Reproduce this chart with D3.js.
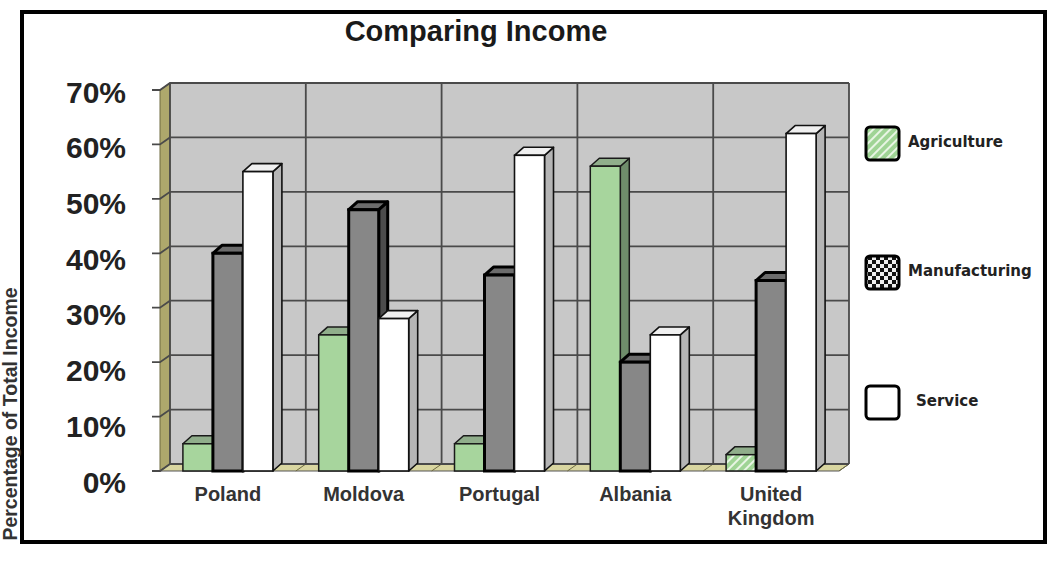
<!DOCTYPE html>
<html>
<head>
    <meta charset="utf-8">
    <title>Comparing Income</title>
    <script src="https://d3js.org/d3.v7.min.js"></script>
<style>
    body { margin:0; background:#fff; }
    text { font-family: "Liberation Sans", Arial, sans-serif; }
    .legend text { font-family: "DejaVu Sans", Verdana, sans-serif; font-size:15px; font-weight:bold; fill:#222; }
</style>
</head>
<body>
<svg width="1064" height="562"></svg>

<script>
    // data
    var categories = ["Poland", "Moldova", "Portugal", "Albania", "United Kingdom"];
    var series = ["Agriculture", "Manufacturing", "Service"];
    var agriculture = [5, 25, 5, 56, 3];
    var manufacturing = [40, 48, 36, 20, 35];
    var service = [55, 28, 58, 25, 62];
    var yTicks = [0, 10, 20, 30, 40, 50, 60, 70];

    var values = { "Agriculture": agriculture, "Manufacturing": manufacturing, "Service": service };

    var svg = d3.select("svg");

    // depth of the walls and bars
    var wdx = 10, wdy = -7;
    var bdx = 9, bdy = -8;

    var x = d3.scaleBand().domain(categories).range([160, 839]);
    var xs = d3.scaleBand().domain(series).range([0, 90]);
    var y = d3.scaleLinear().domain([0, 70]).range([471, 90]);
    var yLab = d3.scaleLinear().domain([0, 70]).range([482, 92]);

    var left = x.range()[0], right = x.range()[1];
    var base = y(0), top70 = y(70);

    function pts(a) { return a.map(function(p){ return p.join(","); }).join(" "); }

    // frame
    svg.append("rect")
        .attr("x", 22).attr("y", 12).attr("width", 1023).attr("height", 530)
        .style("fill", "#fff").style("stroke", "#000").style("stroke-width", 4);

    // title
    svg.append("text").text("Comparing Income")
        .attr("x", 476).attr("y", 41)
        .attr("text-anchor", "middle")
        .style("font-size", "29px").style("font-weight", "bold").style("fill", "#1a1a1a");

    // back wall
    svg.append("polygon")
        .attr("points", pts([[left+wdx, top70+wdy], [right+wdx, top70+wdy], [right+wdx, base+wdy], [left+wdx, base+wdy]]))
        .style("fill", "#c8c8c8");

    // side wall
    svg.append("polygon")
        .attr("points", pts([[left, base], [left+wdx, base+wdy], [left+wdx, top70+wdy], [left, top70]]))
        .style("fill", "#aea86c").style("stroke", "#6e6a40").style("stroke-width", 1);

    // floor
    svg.append("polygon")
        .attr("points", pts([[left, base], [right, base], [right+wdx, base+wdy], [left+wdx, base+wdy]]))
        .style("fill", "#d9d6a0").style("stroke", "#555").style("stroke-width", 1);

    // vertical grid lines on back wall + floor marks
    var vx = categories.map(function(c){ return x(c); }).concat([right]);
    svg.selectAll("g_vgrid").data(vx).enter().append("line")
        .attr("x1", function(d){ return d + wdx; }).attr("x2", function(d){ return d + wdx; })
        .attr("y1", top70 + wdy).attr("y2", base + wdy)
        .style("stroke", "#4a4a4a").style("stroke-width", 1.8);
    svg.selectAll("g_fgrid").data(vx).enter().append("line")
        .attr("x1", function(d){ return d; }).attr("x2", function(d){ return d + wdx; })
        .attr("y1", base).attr("y2", base + wdy)
        .style("stroke", "#6e6a40").style("stroke-width", 1);

    // horizontal grid lines with ticks
    svg.selectAll("g_hgrid").data(yTicks).enter().append("polyline")
        .attr("points", function(d){
            return pts([[152, y(d)], [left, y(d)], [left+wdx, y(d)+wdy], [right+wdx, y(d)+wdy]]);
        })
        .style("fill", "none").style("stroke", "#4a4a4a").style("stroke-width", 1.8);

    // y tick labels
    svg.selectAll("g_ylab").data(yTicks).enter().append("text")
        .text(function(d){ return d + "%"; })
        .attr("x", 126).attr("y", function(d){ return yLab(d); })
        .attr("text-anchor", "end").attr("dominant-baseline", "central")
        .style("font-size", "30px").style("font-weight", "bold").style("fill", "#222");

    // y axis title
    svg.append("text").text("Percentage of Total Income")
        .attr("transform", "translate(17,414) rotate(-90)")
        .attr("text-anchor", "middle")
        .style("font-size", "19.5px").style("font-weight", "bold").style("fill", "#333");

    // patterns
    var defs = svg.append("defs");
    var stripes = defs.append("pattern").attr("id", "stripes")
        .attr("width", 6).attr("height", 6).attr("patternUnits", "userSpaceOnUse")
        .attr("patternTransform", "rotate(45)");
    stripes.append("rect").attr("width", 6).attr("height", 6).style("fill", "#9fd495");
    stripes.append("rect").attr("width", 2).attr("height", 6).style("fill", "#e8f5e4");
    var checks = defs.append("pattern").attr("id", "checks")
        .attr("width", 8).attr("height", 8).attr("patternUnits", "userSpaceOnUse");
    checks.append("rect").attr("width", 8).attr("height", 8).style("fill", "#111");
    checks.append("rect").attr("width", 4).attr("height", 4).style("fill", "#eee");
    checks.append("rect").attr("x", 4).attr("y", 4).attr("width", 4).attr("height", 4).style("fill", "#eee");

    var styles = {
        "Agriculture":   {front:"#a7d59d", side:"#6f8d6b", top:"#90ae8b", stroke:"#1a1a1a", sw:1.5},
        "Manufacturing": {front:"#878787", side:"#4c4c4c", top:"#6c6c6c", stroke:"#000",    sw:3},
        "Service":       {front:"#ffffff", side:"#b5b5b5", top:"#f0f0f0", stroke:"#111",    sw:1.6}
    };

    // bars, left to right so the right neighbour hides the side face
    var bars = [];
    categories.forEach(function(c, i){
        series.forEach(function(s){
            bars.push({cat:c, ser:s, v:values[s][i], idx:i});
        });
    });

    var bw = xs.bandwidth();
    var offset = (x.bandwidth() - 90) / 2;
    var g_bars = svg.selectAll("g_bar").data(bars).enter().append("g");

    g_bars.append("polygon")
        .attr("points", function(d){
            var x0 = x(d.cat) + offset + xs(d.ser), t = y(d.v);
            return pts([[x0+bw, base], [x0+bw+bdx, base+bdy], [x0+bw+bdx, t+bdy], [x0+bw, t]]);
        })
        .style("fill", function(d){ return styles[d.ser].side; })
        .style("stroke", function(d){ return styles[d.ser].stroke; })
        .style("stroke-width", function(d){ return styles[d.ser].sw; })
        .style("stroke-linejoin", "round");

    g_bars.append("polygon")
        .attr("points", function(d){
            var x0 = x(d.cat) + offset + xs(d.ser), t = y(d.v);
            return pts([[x0, t], [x0+bdx, t+bdy], [x0+bw+bdx, t+bdy], [x0+bw, t]]);
        })
        .style("fill", function(d){ return styles[d.ser].top; })
        .style("stroke", function(d){ return styles[d.ser].stroke; })
        .style("stroke-width", function(d){ return styles[d.ser].sw; })
        .style("stroke-linejoin", "round");

    g_bars.append("rect")
        .attr("x", function(d){ return x(d.cat) + offset + xs(d.ser); })
        .attr("y", function(d){ return y(d.v); })
        .attr("width", bw)
        .attr("height", function(d){ return base - y(d.v); })
        .style("fill", function(d){
            // the UK agriculture bar is drawn hatched in the picture
            if (d.ser == "Agriculture" && d.idx == 4) return "url(#stripes)";
            return styles[d.ser].front;
        })
        .style("stroke", function(d){ return styles[d.ser].stroke; })
        .style("stroke-width", function(d){ return styles[d.ser].sw; });

    // category labels
    var catLab = svg.selectAll("g_cat").data(categories).enter().append("text")
        .attr("x", function(d){ return x(d) + x.bandwidth()/2; })
        .attr("y", 501)
        .attr("text-anchor", "middle")
        .style("font-size", "20px").style("font-weight", "bold").style("fill", "#333");
    catLab.each(function(d){
        var words = d.split(" ");
        var t = d3.select(this);
        words.forEach(function(w, k){
            t.append("tspan").text(w)
                .attr("x", x(d) + x.bandwidth()/2)
                .attr("dy", k == 0 ? 0 : 24);
        });
    });

    // legend
    var legY = [127, 256, 386];
    var legFill = ["url(#stripes)", "url(#checks)", "#fff"];
    var legend = svg.append("g").attr("class", "legend");
    var lg = legend.selectAll("g").data(series).enter().append("g");
    lg.append("rect")
        .attr("x", 866).attr("y", function(d,i){ return legY[i]; })
        .attr("width", 33).attr("height", 33).attr("rx", 4)
        .style("fill", function(d,i){ return legFill[i]; })
        .style("stroke", "#000").style("stroke-width", 3);
    lg.append("text").text(function(d){ return d; })
        .attr("x", function(d,i){ return i == 2 ? 916 : 908; })
        .attr("y", function(d,i){ return legY[i] + 15; })
        .attr("dominant-baseline", "central");
</script>
</body>
</html>
